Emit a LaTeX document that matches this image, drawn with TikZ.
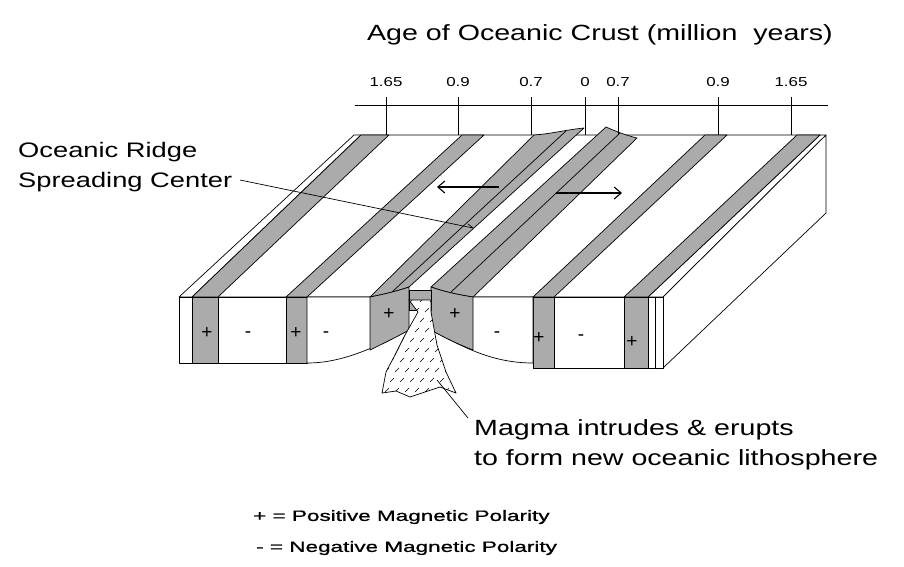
\documentclass[tikz,border=0pt]{standalone}
\usetikzlibrary{arrows.meta}
\usepackage{fontspec}
\setmainfont{Liberation Sans}
\newfontfamily\widefont[FakeStretch=1.3]{Liberation Sans}
\newfontfamily\legfont[FakeStretch=1.5,FakeBold=1]{Liberation Sans}
\begin{document}
\begin{tikzpicture}[x=1pt,y=-1pt,line join=round,
  gr/.style={fill=black!33,draw=black,line width=0.7pt},
  wh/.style={fill=white,draw=black,line width=0.7pt},
  ln/.style={draw=black,line width=0.7pt},
  lbl/.style={font=\widefont\fontsize{22}{30}\selectfont,align=left,inner sep=0pt},
  tick/.style={font=\widefont\fontsize{13}{15}\selectfont,inner sep=0pt},
  sgn/.style={font=\fontsize{19}{20}\selectfont,inner sep=0pt},
  arr/.style={-{Straight Barb[length=7pt,width=12pt]},line width=1.1pt},
  leg/.style={font=\legfont\fontsize{15}{17}\selectfont,anchor=west,inner sep=0pt}]
\useasboundingbox (0,0) rectangle (904,566);
% top face
\path[wh] (179,297) -- (663,297) -- (826,135) -- (354,135) -- cycle;
\draw[ln] (192,297) -- (361,135);
\draw[ln] (648,297) -- (820,135);
\path[gr] (192,297) -- (218,297) -- (389,135) -- (361,135) -- cycle;
\path[gr] (286,297) -- (307,297) -- (484,135) -- (462,135) -- cycle;
\path[gr] (533,297) -- (554,297) -- (727,135) -- (705,135) -- cycle;
\path[gr] (624,297) -- (648,297) -- (820,135) -- (797,135) -- cycle;
% ridge flanks
\path[gr] (370,297) .. controls (390,293) and (400,290) .. (409,287) -- (584,128)
  .. controls (565,130) and (550,134) .. (534,135) -- cycle;
\path[gr] (431,287) .. controls (445,292) and (460,295) .. (473,297) -- (637,138)
  .. controls (625,135) and (615,131) .. (606,127) -- cycle;
\draw[ln] (392,292) -- (566,131);
\draw[ln] (450,293) -- (620,133);
% right side face
\path[wh] (663,297) -- (826,135) -- (826,213) -- (663,368) -- cycle;
% front face
\path[wh] (179,297) rectangle (307,363);
\path[wh] (533,297) rectangle (663,368);
\path[gr] (192,297) rectangle (218,363);
\path[gr] (286,297) rectangle (307,363);
\path[gr] (533,297) rectangle (554,368);
\path[gr] (624,297) rectangle (648,368);
\draw[ln] (655,297) -- (655,368);
% central front curved parts
\path[wh] (307,297) -- (370,297) -- (409,330) .. controls (370,350) and (340,363) .. (307,363) -- cycle;
\path[gr] (370,297) .. controls (390,293) and (400,290) .. (409,287) -- (409,330)
  .. controls (395,338) and (380,345) .. (370,350) -- cycle;
\path[wh] (473,297) -- (533,297) -- (533,363) .. controls (490,363) and (460,345) .. (431,330) -- cycle;
\path[gr] (431,287) .. controls (445,292) and (460,295) .. (473,297) -- (473,350)
  .. controls (460,345) and (445,338) .. (431,330) -- cycle;
\path[gr] (409,290) rectangle (431,310);
% magma
\path[wh] (409,300) -- (418,312) -- (405,335) -- (395,355) -- (386,372) -- (382,393)
  -- (396,391) -- (410,397) -- (425,392) -- (440,387) -- (456,393) -- (446,372)
  -- (437,345) -- (431,312) -- (431,300) -- cycle;
\begin{scope}
\clip (409,300) -- (418,312) -- (405,335) -- (395,355) -- (386,372) -- (382,393)
  -- (396,391) -- (410,397) -- (425,392) -- (440,387) -- (456,393) -- (446,372)
  -- (437,345) -- (431,312) -- (431,300) -- cycle;
\foreach \i in {0,...,7}{\foreach \j in {0,...,9}{
  \draw[line width=0.5pt] ({380+\i*10+mod(\j,2)*5},{302+\j*10}) -- ++(4,-4);}}
\end{scope}
% arrows
\draw[arr] (499,187) -- (437,187);
\draw[arr] (556,193) -- (622,193);
% axis
\draw[ln] (355,105) -- (828,105);
\foreach \x/\t in {386/1.65,458/0.9,531/0.7,585/0,618/0.7,718/0.9,791/1.65}{
  \draw[ln] (\x,97) -- (\x,135);
  \node[tick] at (\x,82) {\t};}
\node[lbl] (title) at (600,35) {Age of Oceanic Crust (million\ \ years)};
% labels
\node[lbl,anchor=north west,font=\widefont\fontsize{21}{30}\selectfont] (ridge) at (18,142) {Oceanic Ridge\\Spreading Center};
\coordinate (rp) at (473,228);
\draw[ln] (240,180) -- (rp) -- (468,224);
\node[lbl,anchor=north west] (mag) at (474,419) {Magma intrudes \& erupts\\ to form new oceanic lithosphere};
\draw[ln] (437,380) -- (468,418);
\node[leg] (l1) at (253,517) {+ = Positive Magnetic Polarity};
\node[leg] (l2) at (256,548) {- = Negative Magnetic Polarity};
% signs
\foreach \x/\y/\s in {207/333/+,248/335/-,296/333/+,326/335/-,389/314/+,455/314/+,497/335/-,539/338/+,581/338/-,632/342/+}{
  \node[sgn] at (\x,\y) {\s};}
\end{tikzpicture}
\end{document}
